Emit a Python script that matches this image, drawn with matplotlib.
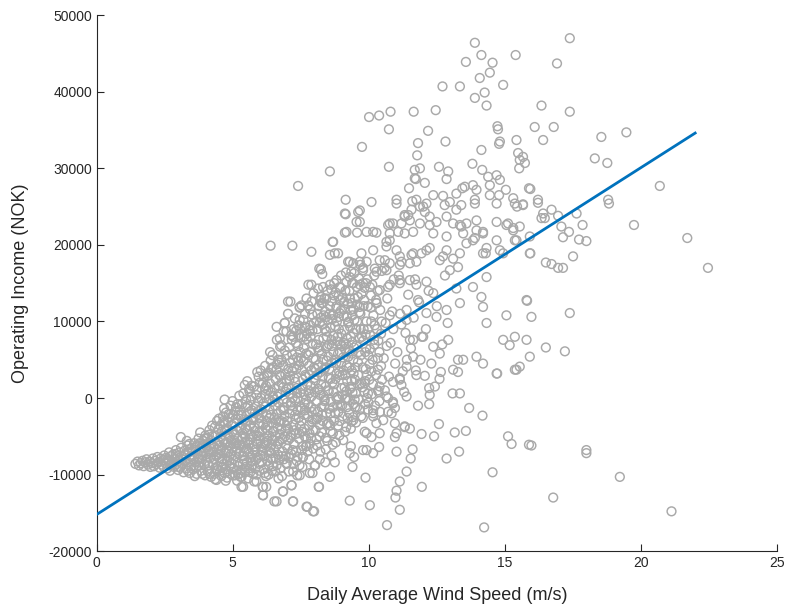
import matplotlib
matplotlib.use("Agg")
import matplotlib.pyplot as plt
import numpy as np

plt.rcParams['font.family'] = ['Liberation Sans', 'DejaVu Sans']

# (daily average wind speed m/s, operating income in thousand NOK)
core_pts = [
    (1.42, -8.6), (1.50, -8.3), (1.55, -8.8), (1.62, -8.5), (1.68, -8.2), (1.72, -8.9),
    (1.78, -8.4), (1.83, -8.0), (1.88, -8.7), (1.93, -8.3), (1.97, -9.0),
    (2.02, -8.5), (2.06, -7.9), (2.10, -8.9), (2.15, -8.2), (2.19, -8.6), (2.23, -7.7),
    (2.27, -8.4), (2.31, -9.1), (2.35, -7.9), (2.39, -8.7), (2.44, -8.1), (2.48, -7.5), (2.46, -9.0),
    (2.52, -8.5), (2.55, -7.8), (2.59, -9.2), (2.63, -8.2), (2.66, -7.1), (2.70, -8.8), (2.73, -7.6), (2.69, -9.5),
    (2.77, -8.3), (2.80, -7.4), (2.84, -9.0), (2.88, -8.0), (2.91, -6.8), (2.94, -8.6), (2.97, -7.6), (2.99, -9.4),
    (3.01, -8.2), (3.04, -7.1), (3.07, -9.1), (3.10, -6.5), (3.13, -8.6), (3.16, -7.7), (3.19, -9.7), (3.22, -6.9),
    (3.24, -8.3), (3.09, -5.1),
    (3.27, -7.5), (3.30, -9.2), (3.33, -6.2), (3.36, -8.4), (3.39, -7.0), (3.42, -9.8), (3.45, -8.0), (3.48, -6.6),
    (3.47, -8.9), (3.31, -5.6),
    (3.52, -7.6), (3.55, -9.3), (3.58, -5.9), (3.61, -8.4), (3.64, -6.8), (3.67, -9.9), (3.70, -7.2), (3.73, -8.8),
    (3.74, -5.3), (3.60, -10.2), (3.68, -6.2),
    (3.77, -8.0), (3.80, -4.5), (3.83, -9.5), (3.86, -6.5), (3.89, -7.5), (3.92, -5.6), (3.95, -8.7), (3.98, -10.1),
    (3.85, -7.0), (3.94, -6.1), (3.99, -4.9),
    (4.02, -8.2), (4.05, -5.2), (4.08, -9.6), (4.11, -6.9), (4.14, -4.2), (4.17, -7.8), (4.20, -10.3), (4.23, -6.0),
    (4.06, -7.3), (4.13, -8.8), (4.19, -5.5), (4.24, -3.6),
    (4.27, -8.5), (4.30, -6.3), (4.33, -9.9), (4.36, -4.9), (4.39, -7.6), (4.42, -3.0), (4.45, -8.9), (4.48, -5.7),
    (4.29, -7.1), (4.35, -10.6), (4.41, -6.7), (4.47, -4.1), (4.44, -9.4),
    (4.52, -7.9), (4.55, -5.0), (4.58, -10.2), (4.61, -6.4), (4.64, -2.4), (4.67, -8.6), (4.70, -0.2), (4.73, -7.2),
    (4.54, -3.6), (4.60, -9.1), (4.66, -5.6), (4.71, -4.3), (4.74, -10.8), (4.57, -8.3), (4.68, -1.4),
    (4.77, -6.8), (4.80, -9.6), (4.83, -3.1), (4.86, -7.7), (4.89, -5.2), (4.92, -1.0), (4.95, -8.5), (4.98, -4.4),
    (4.79, -10.4), (4.85, -2.1), (4.90, -6.2), (4.96, -9.2), (4.99, -0.4), (4.82, -5.9), (4.93, -7.3),
    (5.02, -8.0), (5.05, -4.8), (5.08, -10.1), (5.11, -2.7), (5.14, -6.6), (5.17, -0.8), (5.20, -8.9), (5.23, -3.9),
    (5.04, -6.0), (5.09, -1.7), (5.13, -9.5), (5.18, -5.3), (5.22, -7.3), (5.24, 0.3), (5.06, -3.3), (5.16, -10.8),
    (5.27, -7.0), (5.30, -2.2), (5.33, -9.4), (5.36, -4.6), (5.39, 0.6), (5.42, -8.1), (5.45, -5.8), (5.48, -1.2),
    (5.29, -10.3), (5.32, -11.6), (5.35, -3.4), (5.40, -6.5), (5.44, 1.7), (5.47, -9.0), (5.38, -7.6), (5.46, -4.0),
    (5.52, -8.4), (5.55, -3.0), (5.58, -6.1), (5.61, 0.9), (5.64, -9.7), (5.67, -4.7), (5.70, -1.6), (5.73, -7.4),
    (5.53, 2.2), (5.57, -10.5), (5.62, -5.4), (5.66, -0.3), (5.71, -8.8), (5.74, -2.5), (5.59, -7.0), (5.69, 1.6),
    (5.54, -4.2),
    (5.77, -6.4), (5.80, -2.0), (5.83, -9.2), (5.86, 0.4), (5.89, -4.9), (5.92, -7.8), (5.95, 2.8), (5.98, -3.4),
    (5.79, -10.9), (5.84, -1.1), (5.88, -5.7), (5.93, -0.4), (5.97, -8.6), (5.78, 1.5), (5.90, 3.4), (5.87, -10.0),
    (5.82, -7.1), (5.96, -5.0), (5.99, -2.6),
    (6.02, -7.5), (6.05, -1.5), (6.08, -4.3), (6.11, 2.0), (6.14, -9.3), (6.17, -6.1), (6.20, 0.5), (6.23, -3.0),
    (6.03, 3.6), (6.07, -8.4), (6.11, -12.7), (6.13, -0.7), (6.16, -5.2), (6.19, 4.2), (6.22, -10.2), (6.24, -2.2),
    (6.06, -6.8), (6.18, 1.3), (6.10, -11.6),
    (6.27, -5.6), (6.30, 1.0), (6.33, -8.8), (6.36, -2.6), (6.39, 4.9), (6.42, -7.2), (6.45, -0.5), (6.48, -4.4),
    (6.29, 2.9), (6.32, -10.0), (6.35, -1.5), (6.38, -6.4), (6.41, 3.8), (6.44, -9.5), (6.47, 0.3), (6.28, -3.6),
    (6.40, -7.9), (6.46, 5.6), (6.37, 6.0),
    (6.52, -6.7), (6.55, -1.0), (6.58, 2.4), (6.61, -8.8), (6.64, -3.8), (6.67, 5.0), (6.70, -5.6), (6.73, 0.6),
    (6.53, -13.5), (6.56, -9.6), (6.60, 3.7), (6.63, -2.1), (6.66, -7.4), (6.69, 1.6), (6.72, -4.7), (6.74, 6.7),
    (6.54, -0.2), (6.62, 7.6), (6.68, -10.5), (6.57, -5.0), (6.71, -8.1),
    (6.77, -3.0), (6.80, 2.0), (6.83, -7.0), (6.86, 4.3), (6.89, -1.2), (6.92, -5.0), (6.95, 0.8), (6.98, -8.6),
    (6.78, 6.9), (6.81, -10.2), (6.84, -12.2), (6.87, 8.7), (6.90, -2.4), (6.93, 3.1), (6.96, -6.2), (6.99, 5.6),
    (6.79, -4.1), (6.85, -0.2), (6.91, 9.8), (6.97, -3.6), (6.88, -8.0),
    (7.02, -6.6), (7.05, 1.4), (7.08, -2.0), (7.11, 4.6), (7.14, -4.8), (7.17, 7.6), (7.20, 0.0), (7.23, -8.6),
    (7.03, 11.0), (7.06, -9.6), (7.10, 2.9), (7.13, -1.0), (7.16, -11.4), (7.19, 5.7), (7.22, -3.5), (7.24, 9.0),
    (7.04, -5.5), (7.12, 12.6), (7.21, -13.5), (7.15, -7.3), (7.07, 6.6), (7.18, 3.5),
    (7.27, -4.2), (7.30, 2.1), (7.33, -6.9), (7.36, 5.3), (7.39, -1.6), (7.42, 8.2), (7.45, -8.8), (7.48, 0.7),
    (7.28, 10.4), (7.31, -2.8), (7.34, 3.8), (7.37, -10.1), (7.40, 6.8), (7.43, -5.3), (7.46, 11.8), (7.29, -0.3),
    (7.38, -7.7), (7.44, 4.3), (7.47, -3.6), (7.41, 9.5), (7.35, 1.3),
    (7.52, -3.0), (7.55, 3.6), (7.58, -7.7), (7.61, 6.5), (7.64, -0.8), (7.67, 9.3), (7.70, -5.3), (7.73, 1.8),
    (7.53, 12.1), (7.56, -9.0), (7.60, 4.8), (7.63, -2.2), (7.66, 11.0), (7.69, -6.3), (7.72, 7.7), (7.74, -14.2),
    (7.54, -4.4), (7.62, 0.5), (7.71, 13.0), (7.58, -6.3), (7.68, 2.8), (7.65, -1.6), (7.50, 7.9),
    (7.77, -2.4), (7.80, 4.2), (7.83, -6.0), (7.86, 8.0), (7.89, 0.2), (7.92, 10.9), (7.95, -4.2), (7.98, 2.6),
    (7.78, 14.8), (7.81, -8.0), (7.84, 6.0), (7.87, -1.2), (7.90, 12.6), (7.93, -9.8), (7.96, 5.2), (7.99, -14.8),
    (7.79, 1.0), (7.85, 9.5), (7.91, -3.1), (7.97, 13.7), (7.88, -5.2), (7.82, 3.0), (7.94, 7.1),
    (8.02, -1.5), (8.05, 5.0), (8.08, -5.4), (8.11, 9.0), (8.14, 1.2), (8.17, 12.0), (8.20, -3.5), (8.23, 3.4),
    (8.03, -8.8), (8.06, 7.0), (8.10, -0.4), (8.13, 14.3), (8.16, -11.6), (8.19, 6.2), (8.22, -7.0), (8.24, 10.5),
    (8.04, 2.3), (8.12, -2.6), (8.18, 16.9), (8.21, 0.4), (8.09, -6.2), (8.15, 4.3), (8.24, 13.2),
    (8.27, -4.5), (8.30, 2.8), (8.33, 7.8), (8.36, -1.0), (8.39, 11.3), (8.42, -6.7), (8.45, 4.9), (8.48, 14.0),
    (8.28, -2.2), (8.31, 9.6), (8.34, 0.3), (8.37, 13.0), (8.40, -8.4), (8.43, 6.5), (8.46, -3.4), (8.49, 10.2),
    (8.29, 16.2), (8.35, 3.7), (8.41, 1.5), (8.47, -5.6), (8.32, 12.4), (8.44, 8.7), (8.38, -0.2),
    (8.52, -3.3), (8.55, 3.8), (8.58, 9.2), (8.61, -0.5), (8.64, 12.6), (8.67, -6.1), (8.70, 6.0), (8.73, 15.0),
    (8.53, 0.9), (8.56, 11.0), (8.59, -2.0), (8.62, 14.2), (8.65, 4.6), (8.68, -4.6), (8.71, 8.1), (8.74, 1.8),
    (8.54, 7.0), (8.63, -7.5), (8.72, 13.4), (8.60, 2.5), (8.66, 10.3), (8.69, -1.2),
    (8.77, -2.0), (8.80, 4.6), (8.83, 10.0), (8.86, 0.2), (8.89, 13.3), (8.92, -4.9), (8.95, 7.0), (8.98, 16.0),
    (8.78, 2.5), (8.81, 12.0), (8.84, -0.9), (8.87, 5.8), (8.90, 9.0), (8.93, -3.0), (8.96, 14.4), (8.99, 1.3),
    (8.79, -5.8), (8.85, 8.0), (8.91, 3.4), (8.97, 11.4), (8.88, -1.8), (8.94, 6.0),
    (9.02, -1.0), (9.05, 5.3), (9.08, 10.7), (9.11, 1.4), (9.14, 14.0), (9.17, -3.8), (9.20, 7.8), (9.23, 12.3),
    (9.03, 3.0), (9.06, -5.5), (9.10, 8.9), (9.13, -0.1), (9.16, 16.4), (9.19, 4.2), (9.22, -2.6), (9.24, 9.8),
    (9.04, 13.1), (9.12, 6.4), (9.18, 0.9), (9.09, 11.6), (9.21, 2.2),
    (9.27, -0.3), (9.30, 6.1), (9.33, 11.5), (9.36, 2.3), (9.39, 15.0), (9.42, -2.5), (9.45, 8.5), (9.48, 13.0),
    (9.28, 4.0), (9.31, 9.3), (9.34, -4.0), (9.37, 12.4), (9.40, 0.7), (9.43, 5.0), (9.46, 16.3), (9.49, -1.2),
    (9.29, 14.0), (9.38, 7.3), (9.44, 3.2), (9.47, 10.2), (9.35, 1.5),
    (9.52, 0.6), (9.55, 6.9), (9.58, 12.2), (9.61, 3.0), (9.64, 15.6), (9.67, -1.5), (9.70, 9.0), (9.73, 13.6),
    (9.53, -3.2), (9.57, 10.0), (9.60, 4.7), (9.63, -0.2), (9.66, 7.8), (9.69, 17.4), (9.72, 1.9), (9.56, 14.5),
    (9.65, 11.2), (9.71, 5.6),
    (9.77, 1.4), (9.80, 7.5), (9.83, 12.8), (9.86, -0.8), (9.89, 3.8), (9.92, 10.0), (9.95, 15.5), (9.98, 5.6),
    (9.78, -2.6), (9.81, 9.0), (9.84, 14.4), (9.87, 2.2), (9.90, 6.5), (9.93, 0.0), (9.96, 12.0), (9.79, 17.0),
    (9.88, 8.3), (9.97, -1.5),
    (10.02, 2.4), (10.05, 8.2), (10.08, 13.4), (10.11, 0.5), (10.14, 5.0), (10.17, 10.8), (10.20, 16.0),
    (10.23, -1.0), (10.04, 6.4), (10.07, 11.8), (10.10, 3.5), (10.13, 14.8), (10.16, -2.0), (10.19, 7.6),
    (10.22, 9.5),
    (10.27, 3.0), (10.30, 9.0), (10.33, 14.0), (10.36, 0.8), (10.39, 6.0), (10.42, 11.5), (10.45, 4.2),
    (10.48, 16.6), (10.29, 12.4), (10.35, 7.5), (10.41, -1.8), (10.47, 10.0),
    (10.55, 5.2), (10.62, 9.8), (10.68, 13.0), (10.74, 2.8), (10.80, 7.2), (10.86, 11.3), (10.92, 15.5),
    (10.97, 4.5), (10.58, 17.0), (10.71, 0.0), (10.84, -2.0), (10.66, 6.8), (10.90, 9.0),
    (11.05, 6.0), (11.15, 11.0), (11.25, 3.5), (11.35, 8.5), (11.45, 13.5), (11.10, 16.0), (11.30, 0.8),
    (11.40, 5.0), (11.20, 9.6),
    (11.55, 6.5), (11.65, 10.5), (11.75, 3.0), (11.85, 12.5), (11.95, 8.0), (11.70, 15.5), (11.90, 5.0),
    (12.1, 9.0), (12.3, 4.5), (12.5, 12.0), (12.7, 7.0), (12.9, 9.8), (12.2, 14.0), (12.6, 2.5), (12.8, 16.0),
]

# second and third passes over the dense band, points lying between the first ones
core_fill_pts = [
    (2.60, -8.0), (2.75, -8.6), (2.90, -7.3), (3.00, -9.0), (3.15, -8.0), (3.25, -7.3), (3.35, -9.5),
    (3.45, -7.6), (3.40, -6.0),
    (3.55, -8.1), (3.60, -6.5), (3.66, -9.0), (3.72, -7.8), (3.78, -5.9), (3.82, -8.4), (3.88, -9.9),
    (3.93, -7.0), (3.97, -5.3),
    (4.04, -6.4), (4.09, -8.5), (4.12, -4.8), (4.16, -9.9), (4.21, -7.1), (4.26, -5.0), (4.31, -8.0),
    (4.34, -3.8), (4.38, -9.2), (4.43, -6.0), (4.46, -7.4), (4.49, -2.7),
    (4.53, -9.5), (4.56, -6.9), (4.59, -4.4), (4.62, -8.0), (4.65, -3.0), (4.69, -9.8), (4.72, -5.9),
    (4.75, -1.9), (4.78, -8.2), (4.81, -4.7), (4.84, -7.0), (4.87, -2.6), (4.91, -9.9), (4.94, -5.5),
    (4.97, -3.5),
    (5.03, -9.2), (5.07, -5.6), (5.10, -7.6), (5.12, -1.2), (5.15, -4.2), (5.19, -8.4), (5.21, -2.2),
    (5.25, -6.1), (5.28, -9.8), (5.31, -4.0), (5.34, -0.8), (5.37, -8.6), (5.41, -2.8), (5.43, -7.1),
    (5.46, -5.1), (5.49, -0.2),
    (5.51, -6.6), (5.56, -1.0), (5.60, -9.2), (5.63, -3.6), (5.65, -7.8), (5.68, 0.2), (5.72, -5.1),
    (5.75, -9.9), (5.76, -2.9), (5.81, -4.3), (5.85, -8.1), (5.88, 1.1), (5.91, -6.0), (5.94, -1.7),
    (5.98, -9.5), (5.99, 2.0),
    (6.01, -5.5), (6.04, 0.0), (6.09, -7.0), (6.12, -3.5), (6.15, 2.8), (6.18, -9.8), (6.21, -1.1),
    (6.23, -5.8), (6.26, 3.2), (6.29, -8.2), (6.31, -0.1), (6.34, -4.9), (6.37, 1.9), (6.40, -2.2),
    (6.43, -6.1), (6.46, 4.0), (6.49, -8.9), (6.45, -3.3),
    (6.51, -4.3), (6.54, 1.2), (6.57, -7.9), (6.59, -2.9), (6.62, 4.4), (6.65, -6.0), (6.68, -0.6),
    (6.71, 3.0), (6.74, -9.2), (6.76, -1.6), (6.79, 5.0), (6.82, -5.4), (6.85, 1.4), (6.88, -3.2),
    (6.91, 6.2), (6.94, -7.6), (6.97, 2.4), (6.99, -0.6),
    (7.01, -3.0), (7.04, 3.8), (7.07, -7.8), (7.09, 0.6), (7.12, -5.2), (7.15, 8.2), (7.18, -1.6),
    (7.21, 5.0), (7.24, -6.0), (7.26, 2.6), (7.29, -2.2), (7.32, 7.2), (7.35, -8.2), (7.38, 0.0),
    (7.41, 4.8), (7.44, -4.6), (7.47, 9.0), (7.49, -1.2),
    (7.51, 5.2), (7.54, -6.8), (7.57, 1.2), (7.60, 10.2), (7.63, -4.0), (7.66, 3.0), (7.69, -0.2),
    (7.72, 8.4), (7.75, -7.0), (7.78, 5.6), (7.81, -3.6), (7.84, 11.6), (7.87, 1.6), (7.90, -1.8),
    (7.93, 8.8), (7.96, -6.6), (7.99, 4.0), (7.80, 0.6),
    (8.01, 0.8), (8.04, -4.2), (8.07, 10.0), (8.10, 3.0), (8.13, -1.8), (8.16, 7.6), (8.19, -5.0),
    (8.22, 12.8), (8.25, 1.8), (8.28, 5.8), (8.31, -3.0), (8.34, 10.8), (8.37, -0.4), (8.40, 4.0),
    (8.43, -5.2), (8.46, 8.0), (8.49, 1.0), (8.20, -8.0),
    (8.51, 5.4), (8.54, -1.4), (8.57, 12.0), (8.60, -4.4), (8.63, 7.6), (8.66, 2.0), (8.69, 10.8),
    (8.72, -3.0), (8.75, 5.0), (8.78, 13.8), (8.81, 0.0), (8.84, 7.4), (8.87, -3.6), (8.90, 10.6),
    (8.93, 3.0), (8.96, -1.0), (8.99, 8.4),
    (9.01, 6.8), (9.04, -2.4), (9.07, 3.6), (9.10, 12.6), (9.13, -4.4), (9.16, 7.0), (9.19, 10.6),
    (9.22, 0.0), (9.25, 5.4), (9.28, -2.0), (9.31, 13.0), (9.34, 8.0), (9.37, 3.6), (9.40, 10.8),
    (9.43, -0.8), (9.46, 6.6), (9.49, 2.4),
    (9.51, 4.0), (9.54, 9.0), (9.57, -1.2), (9.60, 13.2), (9.63, 6.0), (9.66, 1.8), (9.69, 11.0),
    (9.72, -2.4), (9.75, 8.0), (9.78, 4.0), (9.81, 12.0), (9.84, 0.8), (9.87, 6.0), (9.90, 15.0),
    (9.93, 3.0), (9.96, 9.0), (9.99, -0.6),
    (10.03, 4.4), (10.09, 10.0), (10.15, 1.8), (10.21, 7.0), (10.27, 12.8), (10.33, 5.2), (10.39, -0.4),
    (10.45, 8.4), (10.49, 2.4),
    (4.51, -6.2), (4.63, -9.0), (4.76, -4.0), (4.88, -8.9), (4.97, -6.5), (4.70, -3.2),
    (5.01, -2.2), (5.10, -5.9), (5.20, -10.0), (5.26, -1.6), (5.35, -5.3), (5.44, -9.7), (5.48, -3.0),
    (5.55, -5.7), (5.62, -1.8), (5.70, -8.3), (5.78, -3.8), (5.84, -6.7), (5.92, -2.1), (5.97, -4.4),
    (5.60, 1.2),
    (6.04, -6.3), (6.10, -1.9), (6.16, -7.6), (6.22, 1.6), (6.28, -4.2), (6.34, -7.0), (6.40, 0.8),
    (6.46, -5.5), (6.20, -3.9), (6.33, 3.3),
    (6.53, -2.6), (6.59, -6.3), (6.64, 0.2), (6.70, -3.1), (6.76, 2.9), (6.81, -7.6), (6.87, -1.6),
    (6.93, -4.3), (6.98, 1.2), (6.72, 4.6),
    (7.03, -4.0), (7.08, 2.3), (7.14, -0.6), (7.20, -6.8), (7.25, 4.0), (7.31, -4.7), (7.36, 0.6),
    (7.42, -2.6), (7.47, 6.0), (7.33, 8.8),
    (7.53, -1.4), (7.58, 2.4), (7.64, -5.0), (7.70, 5.8), (7.76, -0.8), (7.82, -4.6), (7.88, 3.6),
    (7.94, -2.8), (7.98, 9.8), (7.62, 8.0),
    (8.03, 3.8), (8.08, -2.8), (8.14, 6.6), (8.20, 1.0), (8.26, -1.2), (8.32, 5.0), (8.38, 9.0),
    (8.44, -2.0), (8.48, 6.8), (8.11, 11.0),
    (8.53, 2.6), (8.58, -3.6), (8.64, 6.8), (8.70, 0.8), (8.76, 9.4), (8.82, 3.2), (8.88, -0.2),
    (8.94, 12.8), (8.98, 4.6),
    (9.03, 0.4), (9.08, 7.2), (9.14, 3.0), (9.20, -1.2), (9.26, 10.0), (9.32, 1.2), (9.38, 5.8),
    (9.44, 11.6), (9.48, -0.2),
]

upper_pts = [
    (13.90, 46.4), (14.14, 44.8), (13.57, 43.9), (14.55, 43.8), (15.40, 44.8), (14.08, 41.8), (14.45, 42.5),
    (14.94, 40.9), (12.71, 40.7), (13.35, 40.7), (13.90, 39.2), (14.26, 39.9), (14.33, 38.2), (10.01, 36.7),
    (10.38, 36.9), (10.80, 37.4), (11.65, 37.4), (12.46, 37.6), (10.74, 35.1), (12.18, 34.9), (14.73, 35.5),
    (14.75, 35.1), (9.75, 32.8), (11.81, 33.3), (12.82, 33.5), (14.82, 33.5), (14.79, 33.2), (15.43, 33.7),
    (11.78, 31.7), (14.14, 32.4), (15.49, 32.0), (15.67, 31.5), (15.55, 31.1), (15.74, 30.7), (8.57, 29.6),
    (10.74, 30.2), (11.69, 29.8), (11.88, 30.0), (12.58, 30.2), (12.92, 29.6), (13.81, 30.6), (14.17, 29.8),
    (14.39, 28.9), (14.70, 29.1), (14.82, 28.5), (15.53, 30.0), (11.73, 28.6), (12.06, 28.1), (12.86, 28.6),
    (11.48, 27.4), (13.53, 27.6), (13.83, 27.8), (13.96, 27.2), (14.45, 27.8), (15.04, 27.2), (15.89, 27.4),
    (17.39, 47.0), (16.92, 43.7), (16.35, 38.2), (17.39, 37.4), (16.10, 35.4), (16.80, 35.4), (16.41, 33.7),
    (18.55, 34.1), (19.47, 34.7), (18.31, 31.3), (18.77, 30.7), (20.70, 27.7), (15.94, 27.3), (16.22, 25.9),
    (18.80, 25.9), (7.40, 27.7), (6.39, 19.9), (7.19, 19.9), (7.89, 19.1), (8.67, 20.4), (8.57, 18.7),
    (8.87, 18.9), (8.24, 16.8),
    (9.12, 24.1), (9.61, 24.3), (10.10, 25.6), (11.02, 25.4), (11.57, 24.6), (11.88, 25.0), (12.06, 24.3),
    (12.12, 25.4), (12.79, 25.2), (13.22, 24.6), (13.40, 25.2), (13.90, 25.4), (14.70, 25.4), (15.37, 25.4),
    (15.67, 25.3), (8.69, 20.4), (9.18, 21.7), (9.67, 23.0), (10.16, 21.7), (10.71, 22.6), (10.77, 21.5),
    (11.20, 22.8), (11.45, 23.9), (11.51, 23.2), (12.24, 22.6), (12.49, 23.0), (13.10, 22.8), (13.40, 22.4),
    (13.59, 22.8), (13.96, 21.9), (14.20, 21.5), (14.70, 23.0), (15.12, 22.8), (15.31, 21.9),
    (8.75, 18.9), (9.30, 17.8), (9.73, 18.9), (10.16, 19.3), (10.59, 18.0), (11.02, 19.3), (11.20, 17.8),
    (11.57, 18.7), (11.94, 18.9), (12.24, 19.6), (12.61, 18.0), (12.86, 19.3), (13.10, 18.2), (13.28, 17.1),
    (13.59, 20.2), (13.90, 20.9), (14.20, 18.9), (14.33, 19.6), (14.94, 18.9), (15.37, 20.6), (15.92, 21.1),
    (8.81, 15.4), (9.30, 15.8), (9.79, 15.0), (10.28, 16.5), (10.71, 14.5), (11.14, 15.4), (11.75, 14.8),
    (12.12, 15.2), (12.37, 13.7), (12.98, 16.7), (13.22, 14.3), (13.83, 14.5), (14.14, 13.2), (14.33, 15.8),
    (15.80, 12.8), (8.93, 11.1), (9.67, 11.9), (10.28, 12.4), (10.77, 10.8), (11.39, 11.5), (11.81, 12.8),
    (12.12, 11.1), (12.49, 10.6), (12.86, 11.5), (13.35, 12.4), (14.20, 11.9), (14.33, 9.8), (15.06, 10.8),
    (15.37, 8.0), (14.94, 7.6), (15.18, 6.9), (11.51, 7.6), (12.00, 8.0), (12.37, 6.7), (12.61, 5.8),
    (12.92, 7.6), (13.28, 5.0), (13.47, 5.0), (13.96, 5.4), (14.20, 4.5), (14.70, 3.2), (15.43, 3.7),
    (15.92, 5.4), (13.10, 3.7),
    (11.69, 28.7), (11.02, 25.9), (11.75, 25.9), (12.00, 25.0), (12.37, 26.5), (12.73, 26.4), (12.98, 25.6),
    (13.22, 26.7), (13.44, 27.4), (13.90, 25.9), (14.45, 26.5), (14.79, 26.5), (15.31, 26.1), (15.45, 25.0),
    (10.77, 22.8), (11.32, 23.7), (11.88, 22.8), (12.24, 23.7), (12.86, 23.7), (13.35, 22.6), (13.96, 23.2),
    (14.20, 21.7), (12.37, 21.5), (12.86, 21.1), (13.47, 21.5), (13.83, 20.6), (14.70, 20.6), (15.06, 22.6),
    (15.31, 22.2), (15.43, 20.6), (14.82, 19.3), (15.92, 18.9), (14.30, 18.9), (13.35, 18.9), (12.73, 18.5),
    (12.12, 19.3), (11.63, 18.9), (11.14, 18.5), (10.65, 19.8),
    (9.15, 25.9), (11.60, 25.7), (9.15, 24.0), (9.67, 24.5), (9.55, 23.0), (9.12, 21.6), (9.57, 21.6),
    (9.92, 21.7), (10.28, 21.6), (10.89, 22.8), (11.32, 23.9), (11.08, 21.7), (11.32, 21.5), (11.63, 21.7),
    (10.77, 20.6), (10.65, 20.4), (9.24, 17.8), (9.43, 17.6), (9.67, 17.8), (9.92, 17.8), (10.40, 18.0),
    (10.77, 17.6), (11.14, 17.4), (11.51, 17.6), (11.75, 17.8), (9.36, 16.5), (9.79, 16.7), (10.22, 16.9),
    (10.65, 16.7), (7.89, 14.8), (8.32, 14.5), (8.57, 14.8), (8.93, 14.5), (9.18, 15.2), (9.43, 15.0),
    (9.67, 14.8), (10.04, 14.5), (10.40, 14.1), (10.77, 14.8), (11.14, 15.0), (11.51, 15.4),
    (7.03, 12.6), (7.46, 11.9), (7.77, 12.1), (8.26, 12.4), (8.44, 13.0), (8.81, 11.7),
    (6.61, 9.3), (6.91, 9.8), (6.97, 8.7), (7.22, 8.0), (7.46, 10.2), (7.65, 9.3), (7.83, 8.9), (8.20, 9.8),
    (8.44, 10.6), (6.73, 7.8),
    (15.67, 25.2), (16.22, 25.5), (18.83, 25.4), (16.41, 24.1), (16.72, 24.6), (16.47, 23.5), (16.35, 23.5),
    (16.96, 23.8), (17.64, 24.1), (15.55, 22.4), (17.08, 22.4), (17.36, 21.7), (17.14, 21.0), (17.86, 22.6),
    (17.73, 20.7), (18.00, 20.5), (19.75, 22.6), (21.71, 20.9), (22.47, 17.0), (15.94, 18.9), (17.51, 18.5),
    (16.51, 17.7), (16.72, 17.5), (16.96, 17.0), (17.14, 17.0), (15.82, 12.7), (15.98, 10.6), (17.39, 11.1),
    (15.80, 7.6), (16.51, 6.6), (17.21, 6.1), (15.55, 4.1),
]

lower_pts = [
    (15.98, -6.2), (18.00, -6.8), (18.00, -7.2), (19.23, -10.3), (16.78, -13.0), (21.13, -14.8),
    (14.72, 3.2), (15.37, 3.7), (13.28, 3.4), (12.65, 3.4), (11.73, 3.6), (12.06, 2.9), (13.08, 0.6),
    (13.35, 0.6), (13.69, -1.3), (14.18, -2.3), (12.22, 1.3), (12.43, 1.5), (12.24, 0.4), (12.22, -0.8),
    (11.81, -1.0), (11.39, 0.2), (12.58, -3.4), (13.16, -4.5), (13.57, -4.3), (11.94, -4.7), (12.40, -5.0),
    (15.12, -5.0), (15.25, -6.0), (15.89, -6.1), (13.32, -7.0), (12.86, -7.9), (11.61, -6.7), (11.54, -7.9),
    (11.02, -7.0), (11.39, -9.6), (14.55, -9.7), (11.14, -10.9), (11.95, -11.6), (11.02, -12.1),
    (10.98, -13.0), (11.14, -14.6), (10.04, -14.0), (9.30, -13.4), (9.88, -10.4), (10.67, -16.6),
    (14.24, -16.9), (9.40, -9.0), (8.75, -8.4), (8.57, -10.3), (10.38, -6.4), (10.16, -7.2), (9.92, -6.8),
    (9.79, -6.8), (9.46, -7.7), (9.34, -6.3), (11.02, -4.6), (10.96, -5.1), (11.32, -3.8), (11.51, -4.0),
    (9.85, -4.4), (10.10, -5.1), (10.40, -4.6), (9.36, -3.1), (10.16, -2.4), (10.53, -2.9), (10.28, -3.3),
    (10.96, -3.3), (11.32, -3.7), (10.89, -0.5), (10.96, -1.3), (10.71, -1.8), (10.34, 1.0), (10.59, 1.0),
    (10.89, 2.1), (11.14, 2.6), (11.20, 1.7), (9.85, 1.9), (9.97, 0.6), (10.34, 3.7),
    (9.43, -2.9), (9.92, -4.6), (9.30, -7.2), (10.16, -1.6), (10.40, 1.5), (10.65, 0.2), (10.89, -0.7),
    (11.14, 2.4), (11.39, 4.1), (11.63, 5.4), (11.63, 7.6), (11.39, 10.2),
    (5.32, -10.3), (5.38, -11.6), (5.87, -10.9), (6.11, -12.7), (6.61, -13.5), (6.85, -12.2), (7.22, -13.5),
    (7.16, -11.4), (7.71, -14.2), (7.95, -14.8), (8.17, -11.6), (6.48, -7.9), (6.97, -8.5), (7.22, -9.6),
    (7.46, -10.1), (7.71, -6.3), (8.01, -8.8), (7.58, -7.7), (7.83, -9.8), (6.11, -11.6), (6.23, -11.6),
    (4.40, -10.7), (5.00, -10.1),
]

fit_intercept = -15.2   # thousand NOK
fit_slope = 2.264       # thousand NOK per m/s
fit_range = [0, 22]

pts = np.array(core_pts + core_fill_pts + upper_pts + lower_pts)
wind = pts[:, 0]
income = pts[:, 1] * 1000

fig = plt.figure(figsize=(7.87, 6.09), dpi=100)
ax = fig.add_axes([0.123, 0.095, 0.864, 0.880])

ax.scatter(wind, income, s=40, facecolors='none', edgecolors='#a9a9a9', linewidths=1.05, zorder=2)

fx = np.array(fit_range, dtype=float)
ax.plot(fx, (fit_intercept + fit_slope * fx) * 1000, color='#0072BD', lw=2.0, zorder=3)

ax.set_xlim(0, 25)
ax.set_ylim(-20000, 50000)
ax.set_xticks(np.arange(0, 26, 5))
ax.set_yticks(np.arange(-20000, 50001, 10000))
ax.set_yticklabels([str(v) for v in range(-20000, 50001, 10000)])

for s in ['top', 'right']:
    ax.spines[s].set_visible(False)
for s in ['left', 'bottom']:
    ax.spines[s].set_color('#262626')
    ax.spines[s].set_linewidth(0.8)
ax.tick_params(direction='in', length=5, width=0.8, colors='#262626', labelsize=10)

ax.set_xlabel('Daily Average Wind Speed (m/s)', fontsize=13, color='#262626', labelpad=12)
ax.set_ylabel('Operating Income (NOK)', fontsize=13, color='#262626', labelpad=14)

fig.savefig('out.png', dpi=100)
